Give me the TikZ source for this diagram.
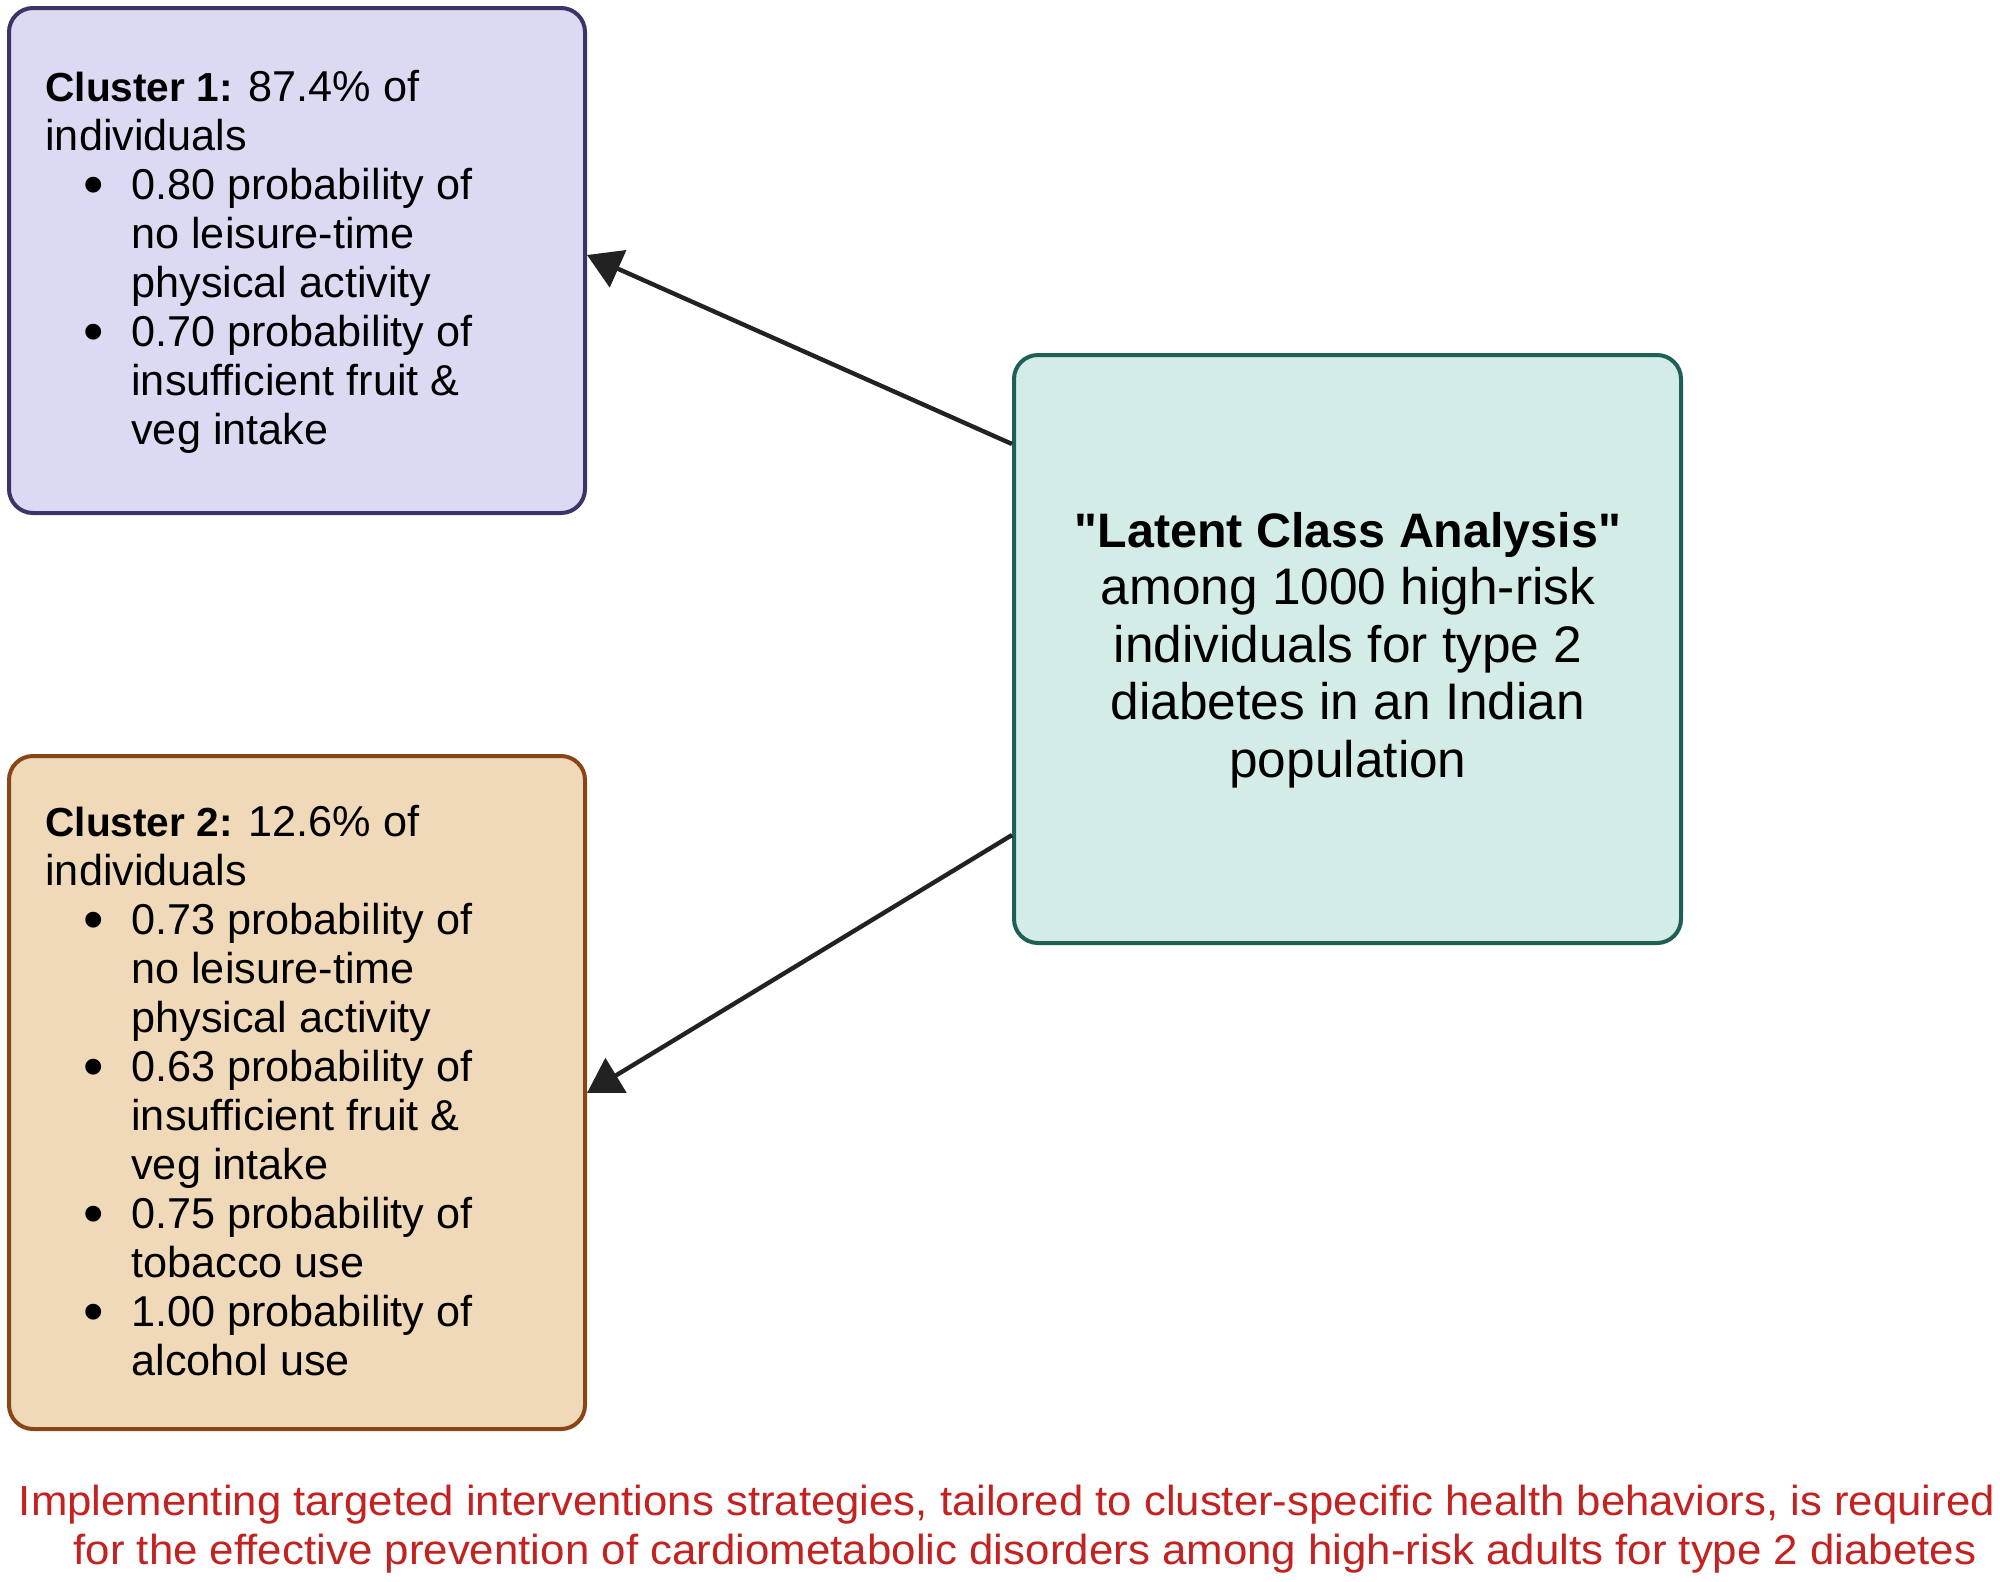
\documentclass[tikz,border=0pt]{standalone}
\usepackage{graphicx}
\usepackage{fontspec}
\setmainfont{Liberation Sans}
\usetikzlibrary{arrows.meta}
\definecolor{c1fill}{HTML}{DCDAF2}
\definecolor{c1draw}{HTML}{3B3468}
\definecolor{c2fill}{HTML}{EFD9B9}
\definecolor{c2draw}{HTML}{8A4516}
\definecolor{cfill}{HTML}{D4ECE8}
\definecolor{cdraw}{HTML}{1F5F56}
\definecolor{redtxt}{HTML}{C42121}
\definecolor{arrcol}{HTML}{222222}
\newcommand{\bitem}{\makebox[43pt][l]{\hspace*{19pt}\raisebox{-2.5pt}{\scalebox{1.35}{\textbullet}}}}
\newcommand{\bcont}{\hspace*{43pt}}
\newcommand{\hd}[1]{{\fontsize{20.3}{24.5}\selectfont\bfseries #1}}
\begin{document}
\begin{tikzpicture}[x=0.5pt,y=-0.5pt,
  box/.style={rounded corners=12pt, line width=2pt, inner sep=0pt},
  arr/.style={draw=arrcol, line width=2.2pt, -{Triangle[length=17pt,width=20pt]}},
  body/.style={font=\fontsize{21.6}{24.5}\selectfont, align=left, inner sep=0pt, anchor=west},
  redline/.style={font=\fontsize{21}{24}\selectfont, text=redtxt, inner sep=0pt}
]
\useasboundingbox (0,0) rectangle (2000,1581);
\node[box, fill=c1fill, draw=c1draw, minimum width=288pt, minimum height=252.5pt] (c1) at (297,260.5) {};
\node[box, fill=c2fill, draw=c2draw, minimum width=288pt, minimum height=336.5pt] (c2) at (297,1092.5) {};
\node[box, fill=cfill, draw=cdraw, minimum width=333.5pt, minimum height=294pt] (lca) at (1347.5,649) {};

\draw[arr] (lca.west |- 0,444) -- (c1.east |- 0,255);
\draw[arr] (lca.west |- 0,835) -- (c2.east |- 0,1093);

\node[body] (t1) at (45,262) {\hd{Cluster 1:} 87.4\% of\\individuals\\\bitem 0.80 probability of\\\bcont no leisure-time\\\bcont physical activity\\\bitem 0.70 probability of\\\bcont insufficient fruit \&\\\bcont veg intake};

\node[body] (t2) at (45,1091) {\hd{Cluster 2:} 12.6\% of\\individuals\\\bitem 0.73 probability of\\\bcont no leisure-time\\\bcont physical activity\\\bitem 0.63 probability of\\\bcont insufficient fruit \&\\\bcont veg intake\\\bitem 0.75 probability of\\\bcont tobacco use\\\bitem 1.00 probability of\\\bcont alcohol use};

\node[font=\fontsize{25.7}{28.75}\selectfont, align=center, inner sep=0pt] (t3) at (1348,650) {{\fontsize{24.2}{28.75}\selectfont\bfseries \textquotedbl Latent Class Analysis\textquotedbl}\\among 1000 high-risk\\individuals for type 2\\diabetes in an Indian\\population};

\node[redline] (r1) at (1007,1505) {\resizebox{988pt}{\height}{Implementing targeted interventions strategies, tailored to cluster-specific health behaviors, is required}};
\node[redline] (r2) at (1025,1554) {\resizebox{951.5pt}{\height}{for the effective prevention of cardiometabolic disorders among high-risk adults for type 2 diabetes}};
\end{tikzpicture}
\end{document}
